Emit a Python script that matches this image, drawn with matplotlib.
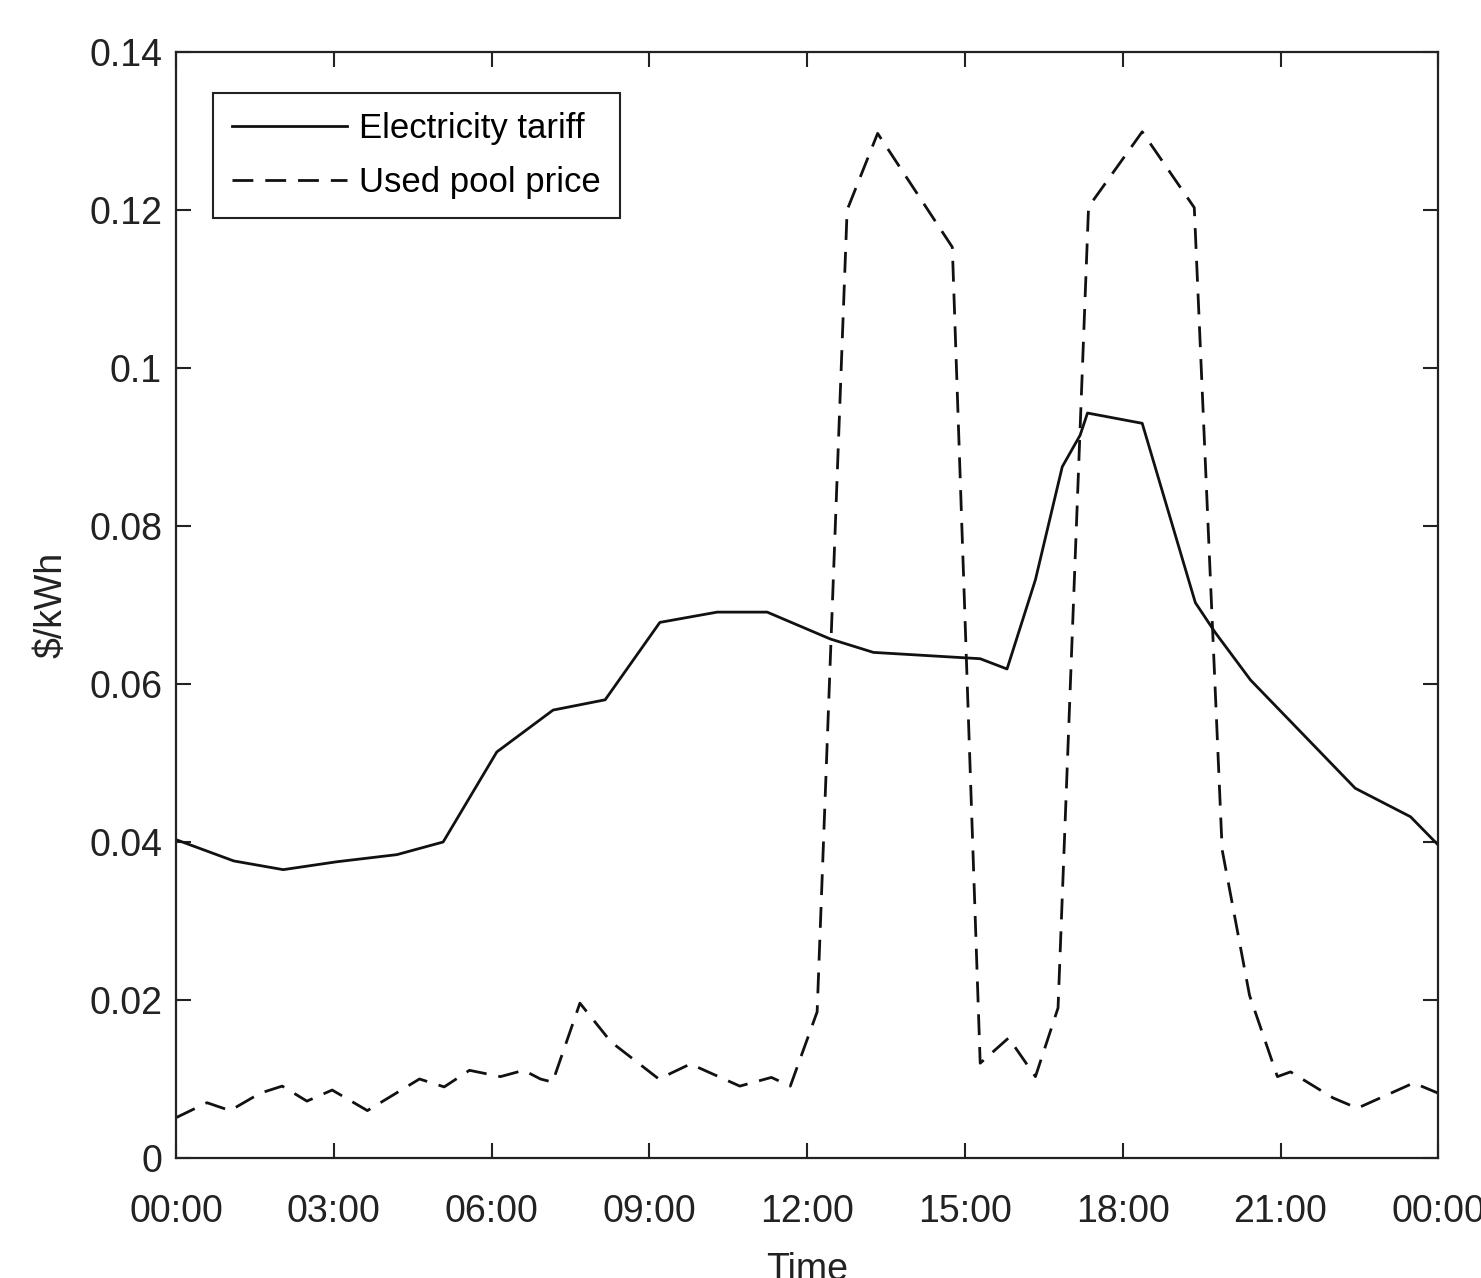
import matplotlib.pyplot as plt
from matplotlib.ticker import FuncFormatter

plt.rcParams['font.family'] = ['Liberation Sans', 'DejaVu Sans']

# Electricity tariff (hour of day, $/kWh)
tariff_t = [0, 1.1, 2.04, 3.06, 4.2, 5.08, 6.1, 7.17, 8.16, 9.2, 10.29, 11.24,
            12.44, 13.26, 15.29, 15.8, 16.34, 16.85, 17.19, 17.33, 18.37, 19.38,
            19.76, 20.43, 22.42, 23.47, 24]
tariff = [0.0403, 0.0376, 0.0365, 0.0375, 0.0384, 0.0400, 0.0514, 0.0567, 0.0580,
          0.0678, 0.0691, 0.0691, 0.0657, 0.0640, 0.0632, 0.0619, 0.0732, 0.0875,
          0.0915, 0.0943, 0.0930, 0.0703, 0.0665, 0.0605, 0.0468, 0.0432, 0.0396]

# Used pool price (hour of day, $/kWh)
pool_t = [0, 0.59, 1.03, 1.6, 2.02, 2.49, 2.97, 3.64, 4.63, 5.1, 5.58, 6.17,
          6.61, 6.93, 7.16, 7.68, 8.27, 9.18, 9.78, 10.72, 11.32, 11.68, 12.19,
          12.76, 13.34, 14.76, 15.29, 15.83, 16.34, 16.77, 17.35, 18.37, 19.36,
          19.89, 20.41, 20.94, 21.19, 22.0, 22.46, 23.53, 24]
pool = [0.0051, 0.0070, 0.0060, 0.0082, 0.0091, 0.0072, 0.0086, 0.0060, 0.0100,
        0.0090, 0.0111, 0.0103, 0.0111, 0.0100, 0.0096, 0.0196, 0.0147, 0.0100,
        0.0119, 0.0091, 0.0102, 0.0091, 0.0185, 0.1200, 0.1297, 0.1153, 0.0120,
        0.0152, 0.0103, 0.0190, 0.1204, 0.1299, 0.1203, 0.0390, 0.0206, 0.0103,
        0.0109, 0.0076, 0.0063, 0.0095, 0.0082]

xticks = [0, 3, 6, 9, 12, 15, 18, 21, 24]
xlabels = ['00:00', '03:00', '06:00', '09:00', '12:00', '15:00', '18:00', '21:00', '00:00']
yticks = [0, 0.02, 0.04, 0.06, 0.08, 0.1, 0.12, 0.14]

fig = plt.figure(figsize=(14.81, 12.78), dpi=100)
ax = fig.add_axes([0.1188, 0.0939, 0.8524, 0.8654])

ax.plot(tariff_t, tariff, color='#111111', lw=2, label='Electricity tariff')
ax.plot(pool_t, pool, color='#111111', lw=2, linestyle=(0, (7.5, 4.3)),
        label='Used pool price')

ax.set_xlim(0, 24)
ax.set_ylim(0, 0.14)
ax.set_xticks(xticks)
ax.set_xticklabels(xlabels)
ax.set_yticks(yticks)
ax.yaxis.set_major_formatter(FuncFormatter(lambda v, p: f'{v:g}'))

ax.tick_params(direction='in', length=11, width=1.5, labelsize=27,
               top=True, right=True, colors='#222222')
ax.tick_params(axis='x', pad=26)
ax.tick_params(axis='y', pad=10)
for s in ax.spines.values():
    s.set_linewidth(1.6)
    s.set_color('#222222')

ax.set_ylabel(r'\$/kWh', fontsize=27, color='#222222', labelpad=14)
ax.set_xlabel('Time', fontsize=27, color='#222222', labelpad=16)

leg = ax.legend(loc='upper left', bbox_to_anchor=(0.0293, 0.963), borderaxespad=0,
                fontsize=25, handlelength=3.3, fancybox=False, framealpha=1,
                edgecolor='#222222', borderpad=0.55, labelspacing=0.6,
                handletextpad=0.37)
leg.get_frame().set_linewidth(1.5)

fig.savefig('out.png', dpi=100)
plt.close(fig)
